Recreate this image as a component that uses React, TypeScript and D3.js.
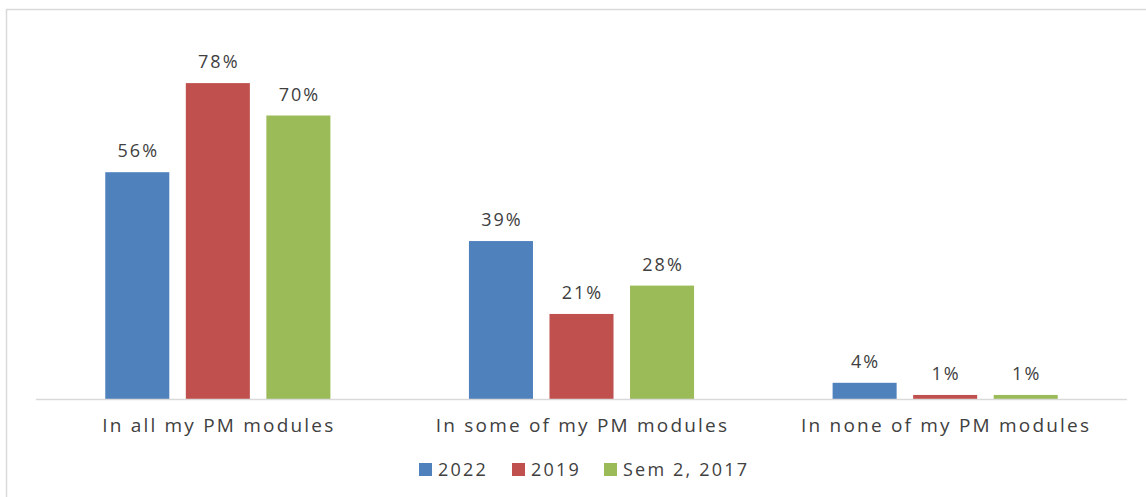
import React from "react";
import * as d3 from "d3";

const categories = ["In all my PM modules", "In some of my PM modules", "In none of my PM modules"];
const seriesNames = ["2022", "2019", "Sem 2, 2017"];
const series2022 = [56, 39, 4];
const series2019 = [78, 21, 1];
const series2017 = [70, 28, 1];
const colors = ["#4F81BD", "#C0504D", "#9BBB59"];

const W = 1146;
const H = 497;
const FONT = "'Open Sans', 'Lato', sans-serif";

export default function App() {
  const seriesValues = [series2022, series2019, series2017];
  const x0 = d3.scaleBand<string>().domain(categories).range([36, 1127]).paddingInner(0).paddingOuter(0);
  const x1 = d3.scaleBand<string>().domain(seriesNames).range([0, x0.bandwidth()]).paddingInner(0.205).paddingOuter(0.86);
  const y = d3.scaleLinear().domain([0, 90]).range([399, 399 - 90 * 4.05]);

  return (
    <svg width={W} height={H} style={{ position: "absolute", left: 0, top: 0, fontFamily: FONT }}>
      <rect x={0} y={0} width={W} height={H} fill="#fff" />
      <path d={`M6.5,${H + 2} V9.5 H${W + 2}`} fill="none" stroke="#d9d9d9" strokeWidth={1.5} />
      {categories.map((c, ci) => (
        <g key={c} transform={`translate(${x0(c)},0)`}>
          {seriesNames.map((s, si) => {
            const v = seriesValues[si][ci];
            const bx = x1(s)!;
            const by = y(v);
            return (
              <g key={s}>
                <rect x={bx} y={by} width={x1.bandwidth()} height={y(0) - by} fill={colors[si]} />
                <text
                  x={bx + x1.bandwidth() / 2 + 1}
                  y={by - 15}
                  textAnchor="middle"
                  fontSize={18}
                  fill="#404040"
                  letterSpacing={2}
                >
                  {v}%
                </text>
              </g>
            );
          })}
          <text
            x={x0.bandwidth() / 2 + 1}
            y={432}
            textAnchor="middle"
            fontSize={19}
            fill="#404040"
            letterSpacing={2.2}
          >
            {c}
          </text>
        </g>
      ))}
      <line x1={36} x2={1127} y1={399.5} y2={399.5} stroke="#d9d9d9" strokeWidth={1.5} />
      {seriesNames.map((s, si) => {
        const lx = [419, 512, 604][si];
        return (
          <g key={s}>
            <rect x={lx} y={463} width={13} height={13} fill={colors[si]} />
            <text x={lx + 19} y={476} fontSize={18} fill="#404040" letterSpacing={2.2}>
              {s}
            </text>
          </g>
        );
      })}
    </svg>
  );
}
